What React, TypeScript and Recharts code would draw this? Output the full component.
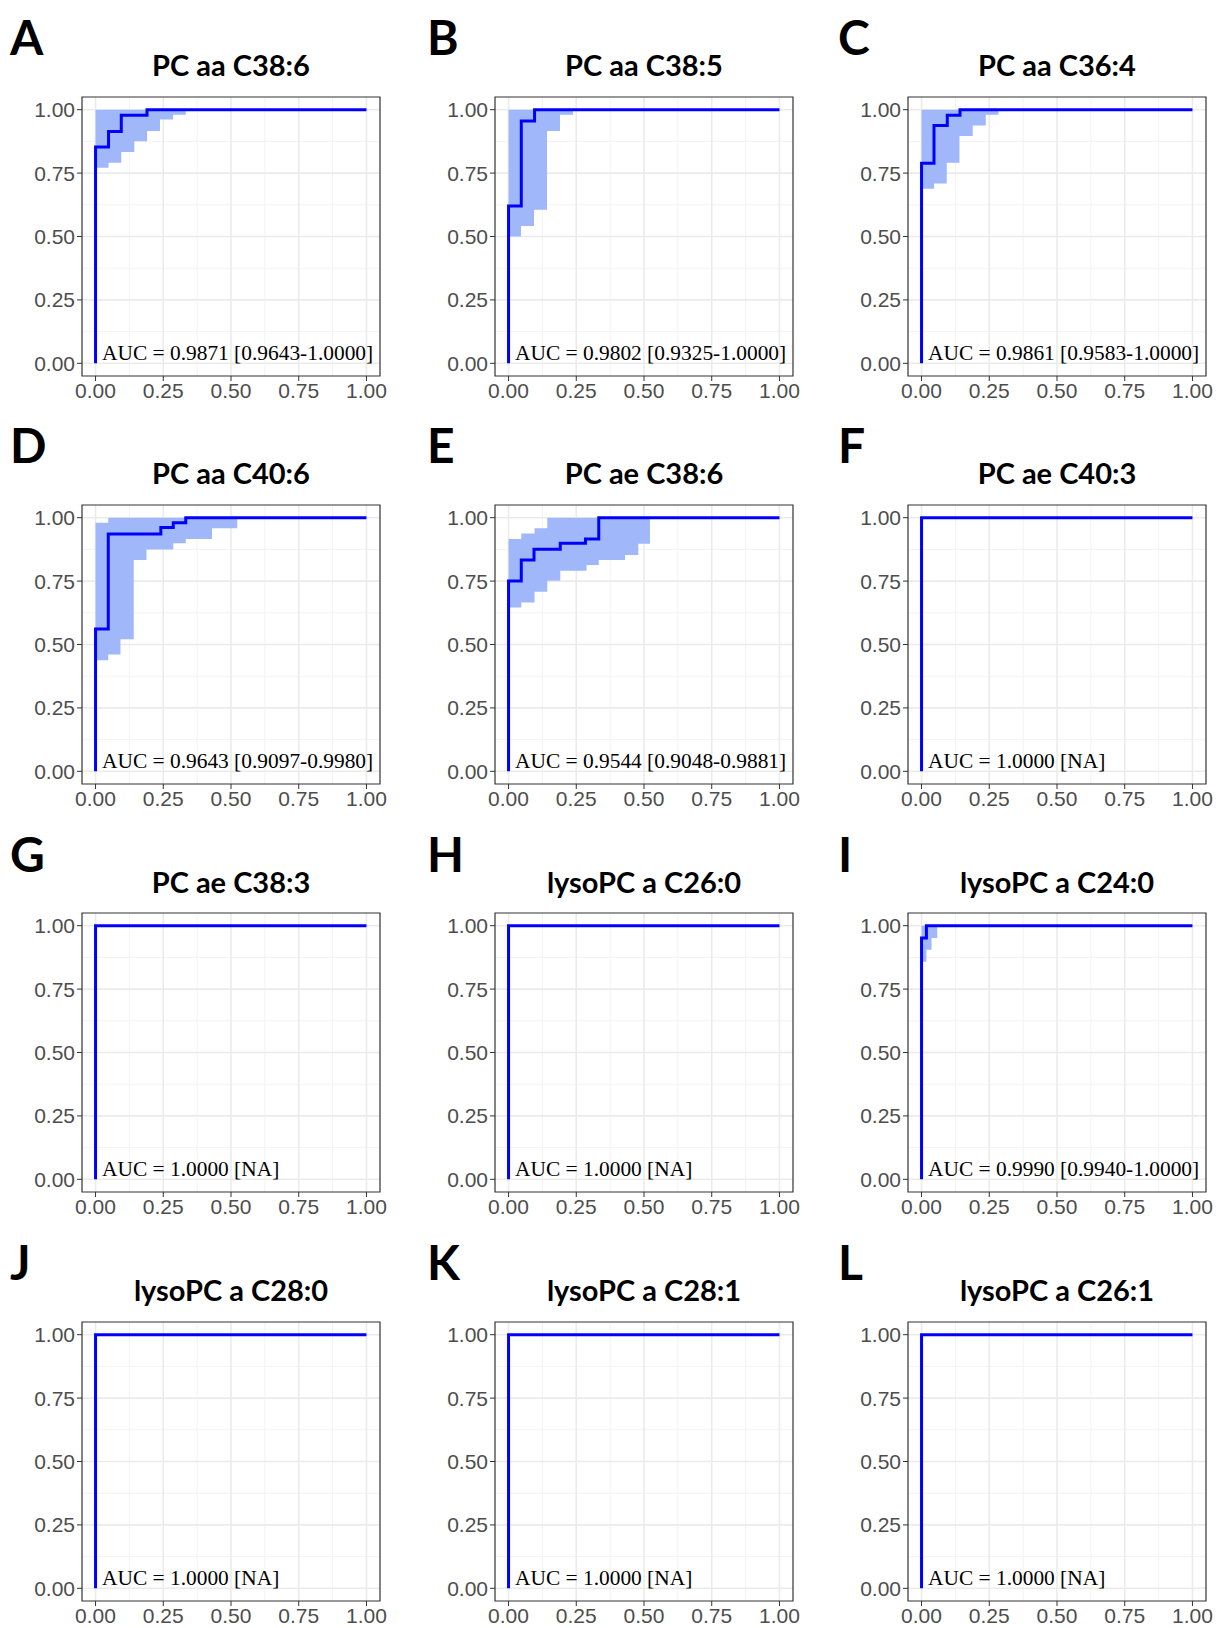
import React from 'react';
import { ComposedChart, Line, Area, XAxis, YAxis, CartesianGrid, ReferenceArea } from 'recharts';

const panelLetters = ['A', 'B', 'C', 'D', 'E', 'F', 'G', 'H', 'I', 'J', 'K', 'L'];
const panelTitles = [
    'PC aa C38:6', 'PC aa C38:5', 'PC aa C36:4',
    'PC aa C40:6', 'PC ae C38:6', 'PC ae C40:3',
    'PC ae C38:3', 'lysoPC a C26:0', 'lysoPC a C24:0',
    'lysoPC a C28:0', 'lysoPC a C28:1', 'lysoPC a C26:1',
];
const aucLabels = [
    'AUC = 0.9871 [0.9643-1.0000]', 'AUC = 0.9802 [0.9325-1.0000]', 'AUC = 0.9861 [0.9583-1.0000]',
    'AUC = 0.9643 [0.9097-0.9980]', 'AUC = 0.9544 [0.9048-0.9881]', 'AUC = 1.0000 [NA]',
    'AUC = 1.0000 [NA]', 'AUC = 1.0000 [NA]', 'AUC = 0.9990 [0.9940-1.0000]',
    'AUC = 1.0000 [NA]', 'AUC = 1.0000 [NA]', 'AUC = 1.0000 [NA]',
];

// ROC curve corners (1 - specificity, sensitivity)
const fprA = [0, 0, 0.048, 0.095, 0.19, 1];
const tprA = [0, 0.853, 0.914, 0.978, 1, 1];
const fprB = [0, 0, 0.047, 0.096, 1];
const tprB = [0, 0.62, 0.955, 1, 1];
const fprC = [0, 0, 0.046, 0.095, 0.142, 1];
const tprC = [0, 0.789, 0.938, 0.978, 1, 1];
const fprD = [0, 0, 0.047, 0.241, 0.287, 0.333, 1];
const tprD = [0, 0.561, 0.936, 0.961, 0.98, 1, 1];
const fprE = [0, 0, 0.047, 0.094, 0.191, 0.284, 0.333, 1];
const tprE = [0, 0.75, 0.833, 0.876, 0.899, 0.916, 1, 1];
const fprI = [0, 0, 0.018, 1];
const tprI = [0, 0.951, 1, 1];
const fprPerfect = [0, 0, 1];
const tprPerfect = [0, 1, 1];

// sensitivity confidence bands
const bandXA = [0, 0.048, 0.095, 0.143, 0.19, 0.238, 0.286, 0.333];
const bandLowA = [0.771, 0.791, 0.833, 0.876, 0.916, 0.961, 0.98, 1];
const bandHighA = [1, 1, 1, 1, 1, 1, 1, 1];
const bandXB = [0, 0.046, 0.094, 0.142, 0.19, 0.238];
const bandLowB = [0.5, 0.541, 0.605, 0.916, 0.98, 1];
const bandHighB = [1, 1, 1, 1, 1, 1];
const bandXC = [0, 0.046, 0.093, 0.14, 0.189, 0.237, 0.284];
const bandLowC = [0.688, 0.709, 0.791, 0.896, 0.938, 0.98, 1];
const bandHighC = [1, 1, 1, 1, 1, 1, 1];
const bandXD = [0, 0.047, 0.092, 0.141, 0.188, 0.287, 0.333, 0.43, 0.523];
const bandLowD = [0.438, 0.461, 0.521, 0.833, 0.875, 0.899, 0.916, 0.958, 1];
const bandHighD = [0.98, 1, 1, 1, 1, 1, 1, 1, 1];
const bandXE = [0, 0.047, 0.096, 0.143, 0.191, 0.288, 0.333, 0.43, 0.479, 0.522];
const bandLowE = [0.646, 0.666, 0.708, 0.751, 0.791, 0.813, 0.833, 0.853, 0.897, 1];
const bandHighE = [0.916, 0.938, 0.958, 1, 1, 1, 1, 1, 1, 1];
const bandXI = [0, 0.018, 0.037, 0.058];
const bandLowI = [0.858, 0.905, 0.951, 1];
const bandHighI = [1, 1, 1, 1];

const axisTicks = [0, 0.25, 0.5, 0.75, 1];
const minorTicks = [0.125, 0.375, 0.625, 0.875];

type Band = { x: number[]; low: number[]; high: number[] } | null;

const curves: { fpr: number[]; tpr: number[]; band: Band }[] = [
    { fpr: fprA, tpr: tprA, band: { x: bandXA, low: bandLowA, high: bandHighA } },
    { fpr: fprB, tpr: tprB, band: { x: bandXB, low: bandLowB, high: bandHighB } },
    { fpr: fprC, tpr: tprC, band: { x: bandXC, low: bandLowC, high: bandHighC } },
    { fpr: fprD, tpr: tprD, band: { x: bandXD, low: bandLowD, high: bandHighD } },
    { fpr: fprE, tpr: tprE, band: { x: bandXE, low: bandLowE, high: bandHighE } },
    { fpr: fprPerfect, tpr: tprPerfect, band: null },
    { fpr: fprPerfect, tpr: tprPerfect, band: null },
    { fpr: fprPerfect, tpr: tprPerfect, band: null },
    { fpr: fprI, tpr: tprI, band: { x: bandXI, low: bandLowI, high: bandHighI } },
    { fpr: fprPerfect, tpr: tprPerfect, band: null },
    { fpr: fprPerfect, tpr: tprPerfect, band: null },
    { fpr: fprPerfect, tpr: tprPerfect, band: null },
];

// layout
const PLOT_W = 298;
const PLOT_H = 279;
const Y_AXIS_W = 70;
const TOP = 10;
const RIGHT = 12;
const X_AXIS_H = 36;
const colLeft = [82, 495, 908];
const letterX = [10, 427, 838];
const rowTop = (i: number) => 96.8 + 408.3 * i;

const tickStyle = { fill: '#4D4D4D', fontSize: 21, fontFamily: '"Liberation Sans", Arial, sans-serif' };
const fmt = (v: number) => v.toFixed(2);

const RocPanel: React.FC<{ idx: number }> = ({ idx }) => {
    const c = curves[idx];
    const lineData = c.fpr.map((x, k) => ({ x, y: c.tpr[k] }));
    const bandData = c.band ? c.band.x.map((x, k) => ({ x, range: [c.band!.low[k], c.band!.high[k]] })) : null;
    return (
        <ComposedChart
            width={Y_AXIS_W + PLOT_W + RIGHT}
            height={TOP + PLOT_H + X_AXIS_H}
            margin={{ top: TOP, right: RIGHT, bottom: 0, left: 0 }}
        >
            <CartesianGrid stroke="#F3F3F3" strokeWidth={1} horizontalValues={minorTicks} verticalValues={minorTicks} />
            <CartesianGrid stroke="#EBEBEB" strokeWidth={1.6} horizontalValues={axisTicks} verticalValues={axisTicks} />
            <XAxis type="number" dataKey="x" domain={[-0.05, 1.05]} ticks={axisTicks} interval={0}
                tickFormatter={fmt} tick={tickStyle} tickSize={5} tickMargin={2} tickLine={{ stroke: '#333333' }}
                axisLine={false} height={X_AXIS_H} />
            <YAxis type="number" domain={[-0.05, 1.05]} ticks={axisTicks} interval={0}
                tickFormatter={fmt} tick={tickStyle} tickSize={5} tickMargin={2} tickLine={{ stroke: '#333333' }}
                axisLine={false} width={Y_AXIS_W} />
            {bandData && (
                <Area data={bandData} dataKey="range" type="stepAfter" fill="#A0B8FA" fillOpacity={1}
                    stroke="none" isAnimationActive={false} />
            )}
            <Line data={lineData} dataKey="y" type="stepAfter" stroke="#0000FF" strokeWidth={3}
                dot={false} isAnimationActive={false} />
            <ReferenceArea x1={-0.05} x2={1.05} y1={-0.05} y2={1.05} fill="none" stroke="#333333"
                strokeWidth={1.2} ifOverflow="visible" />
        </ComposedChart>
    );
};

const App: React.FC = () => {
    const unitX = PLOT_W / 1.1;
    const unitY = PLOT_H / 1.1;
    return (
        <div style={{ position: 'absolute', left: 0, top: 0, width: 1216, height: 1628, background: '#FFFFFF' }}>
            {panelTitles.map((_, idx) => {
                const i = Math.floor(idx / 3);
                const j = idx % 3;
                return (
                    <div key={idx} style={{ position: 'absolute', left: colLeft[j] - Y_AXIS_W, top: rowTop(i) - TOP }}>
                        <RocPanel idx={idx} />
                    </div>
                );
            })}
            <svg width={1216} height={1628} style={{ position: 'absolute', left: 0, top: 0, pointerEvents: 'none' }}>
                {panelTitles.map((title, idx) => {
                    const i = Math.floor(idx / 3);
                    const j = idx % 3;
                    const x0 = colLeft[j] + unitX * 0.05;
                    const y0 = rowTop(i) + PLOT_H - unitY * 0.05;
                    return (
                        <g key={idx}>
                            <text x={letterX[j]} y={55 + 408.3 * i} fontFamily="Lato, sans-serif" fontWeight={700}
                                fontSize={48} fill="#000">{panelLetters[idx]}</text>
                            <text x={colLeft[j] + PLOT_W / 2} y={76 + 408.3 * i} textAnchor="middle"
                                fontFamily="Lato, sans-serif" fontWeight={700} fontSize={29} fill="#000">{title}</text>
                            <text x={x0 + 6.5} y={y0 - 3.5} fontFamily='"Liberation Serif", "Times New Roman", serif'
                                fontSize={21.4} fill="#000">{aucLabels[idx]}</text>
                        </g>
                    );
                })}
            </svg>
        </div>
    );
};

export default App;
